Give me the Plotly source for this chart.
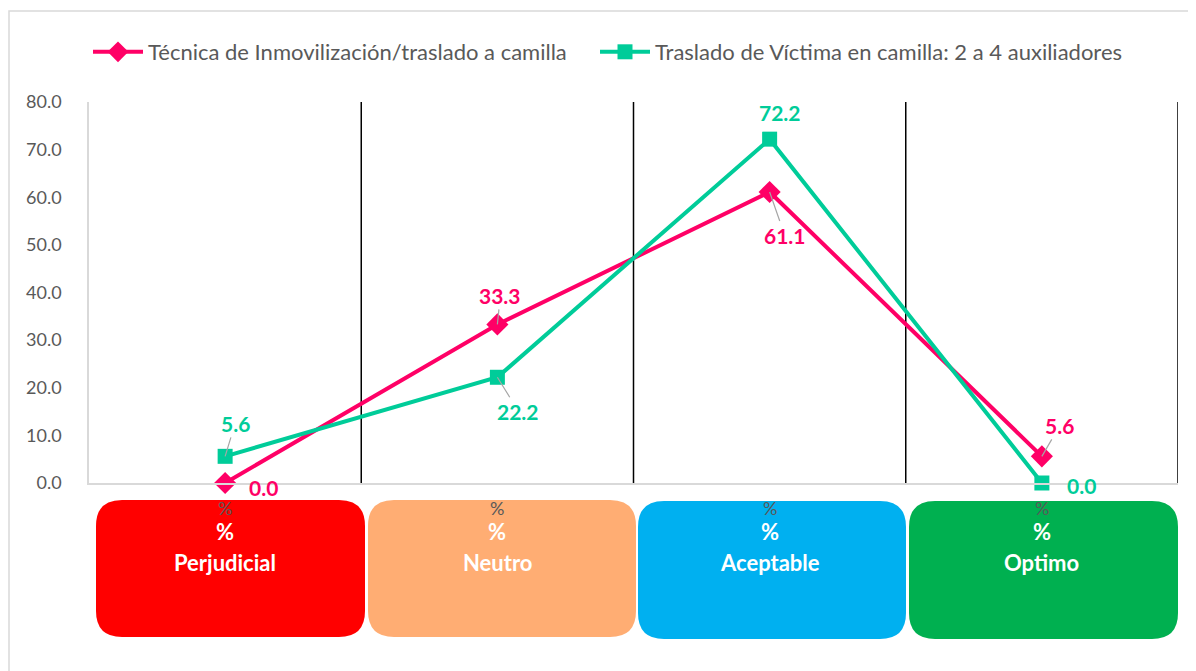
import plotly.graph_objects as go

categories = ["Perjudicial", "Neutro", "Aceptable", "Optimo"]
series_a_name = "Técnica de Inmovilización/traslado a camilla"
series_a = [0.0, 33.3, 61.1, 5.6]
series_b_name = "Traslado de Víctima en camilla: 2 a 4 auxiliadores"
series_b = [5.6, 22.2, 72.2, 0.0]
y_ticks = [0, 10, 20, 30, 40, 50, 60, 70, 80]
box_colors = ["#FF0000", "#FFAD73", "#00B0F0", "#00B050"]

PINK = "#FF0066"
GREEN = "#00CC99"
GRAY_TXT = "#595959"
FONT = "Lato"

OFF = 8  # page body margin
W, H = 1196, 671
L, T = 89 - OFF, 102 - OFF
R = W - (1178 - OFF)
B = H - (483 - OFF)
PW = W - L - R
PH = H - T - B


def px(x):
    return (x - OFF - L) / PW


def py(y):
    return (H - B - (y - OFF)) / PH


def rounded(x0, y0, x1, y1, r):
    X0, X1 = px(x0), px(x1)
    Yt, Yb = py(y0), py(y1)
    rx, ry = r / PW, r / PH
    return (f"M {X0+rx},{Yt} L {X1-rx},{Yt} Q {X1},{Yt} {X1},{Yt-ry} "
            f"L {X1},{Yb+ry} Q {X1},{Yb} {X1-rx},{Yb} L {X0+rx},{Yb} "
            f"Q {X0},{Yb} {X0},{Yb+ry} L {X0},{Yt-ry} Q {X0},{Yt} {X0+rx},{Yt} Z")


fig = go.Figure()
fig.add_trace(go.Scatter(
    x=categories, y=series_a, name=series_a_name, mode="lines+markers",
    line=dict(color=PINK, width=4),
    marker=dict(symbol="diamond", size=17, color=PINK),
    cliponaxis=False, legend="legend",
))
fig.add_trace(go.Scatter(
    x=categories, y=series_b, name=series_b_name, mode="lines+markers",
    line=dict(color=GREEN, width=4),
    marker=dict(symbol="square", size=15, color=GREEN),
    cliponaxis=False, legend="legend2",
))

shapes = []
shapes.append(dict(type="rect", xref="paper", yref="paper",
                   x0=px(9), x1=px(1215), y0=py(11), y1=py(700),
                   line=dict(color="#D9D9D9", width=1.5), layer="below"))
for i in range(len(categories)):
    shapes.append(dict(type="line", xref="x", yref="y",
                       x0=i + 0.5, x1=i + 0.5, y0=0, y1=80,
                       line=dict(color="black", width=1.5), layer="below"))
box_px = [(96, 500, 365, 637), (368, 500, 636, 637),
          (638, 501, 906, 639), (909, 501, 1178, 639)]
for (x0, y0, x1, y1), c in zip(box_px, box_colors):
    shapes.append(dict(type="path", xref="paper", yref="paper",
                       path=rounded(x0, y0, x1, y1, 26),
                       fillcolor=c, line=dict(width=0), layer="above"))

ann = []
for i, cat in enumerate(categories):
    ann.append(dict(x=cat, xref="x", y=py(508), yref="paper", yanchor="middle",
                    text="%", showarrow=False,
                    font=dict(family=FONT, size=18, color=GRAY_TXT)))
    ann.append(dict(x=cat, xref="x", y=py(531), yref="paper", yanchor="middle",
                    text="<b>%</b>", showarrow=False,
                    font=dict(family=FONT, size=22, color="white")))
    ann.append(dict(x=cat, xref="x", y=py(562), yref="paper", yanchor="middle",
                    text="<b>" + cat + "</b>", showarrow=False,
                    font=dict(family=FONT, size=22, color="white")))

lab_font = lambda c: dict(family=FONT, size=21, color=c)
offs_a = [(38, 4, False), (3, -29, True), (15, 43, True), (18, -31, True)]
offs_b = [(10, -33, True), (21, 34, True), (10, -27, False), (40, 2, False)]
for vals, offs, col in ((series_a, offs_a, PINK), (series_b, offs_b, GREEN)):
    for cat, v, (ax, ay, arr) in zip(categories, vals, offs):
        if arr:
            ann.append(dict(x=cat, y=v, text=f"<b>{v:.1f}</b>", showarrow=True,
                            ax=ax, ay=ay, arrowhead=0, arrowwidth=1.2,
                            arrowcolor="#A6A6A6", standoff=0, font=lab_font(col)))
        else:
            ann.append(dict(x=cat, y=v, text=f"<b>{v:.1f}</b>", showarrow=False,
                            xshift=ax, yshift=-ay, font=lab_font(col)))

leg_common = dict(orientation="h", xanchor="left", y=py(52), yanchor="middle",
                  font=dict(family=FONT, size=22, color=GRAY_TXT),
                  itemwidth=50, bgcolor="rgba(0,0,0,0)")

fig.update_layout(
    width=W, height=H,
    margin=dict(l=L, r=R, t=T, b=B),
    paper_bgcolor="white", plot_bgcolor="white",
    font=dict(family=FONT, color=GRAY_TXT),
    showlegend=True,
    legend=dict(x=px(88), **leg_common),
    legend2=dict(x=px(595), **leg_common),
    xaxis=dict(type="category", range=[-0.5, 3.5], showticklabels=False,
               showgrid=False, zeroline=False, showline=True,
               linecolor="#D9D9D9", linewidth=1.5, ticks=""),
    yaxis=dict(range=[0, 80], tickvals=y_ticks, tickformat=".1f",
               showgrid=False, zeroline=False, showline=True,
               linecolor="#D9D9D9", linewidth=1.5, ticks="",
               ticklabelstandoff=22,
               tickfont=dict(family=FONT, size=18, color=GRAY_TXT)),
    shapes=shapes, annotations=ann,
)

fig.write_html("out.html")
